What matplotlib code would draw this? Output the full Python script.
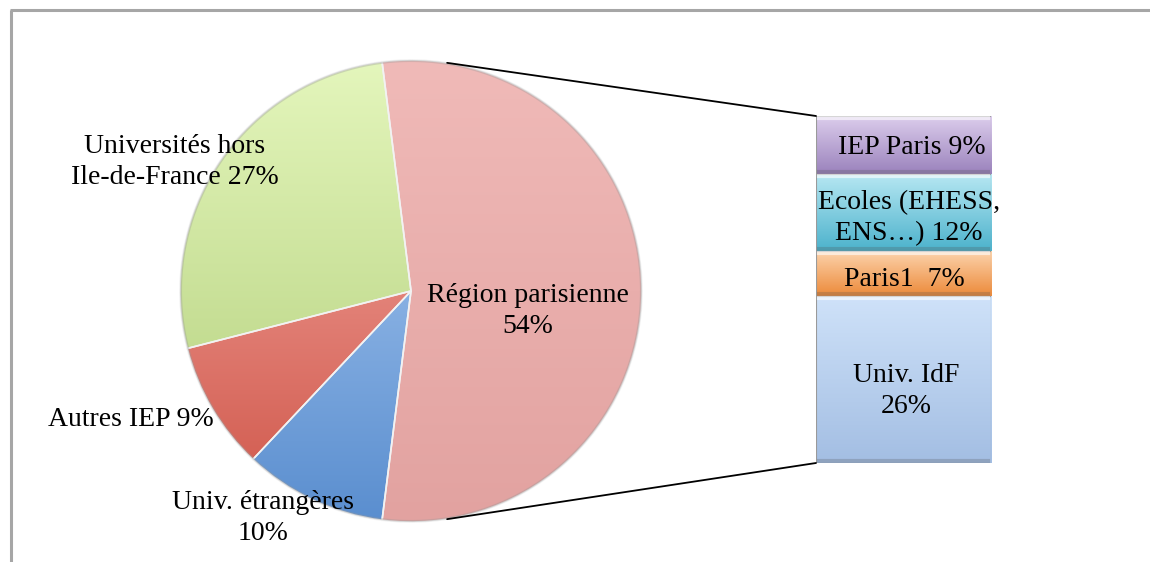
import numpy as np
import matplotlib
matplotlib.use("Agg")
import matplotlib.pyplot as plt
from matplotlib.colors import LinearSegmentedColormap
from matplotlib.patches import ConnectionPatch

# pie data (order: counter-clockwise, starting with the split slice)
pie_labels = ["Région parisienne\n54%", "Universités hors\nIle-de-France 27%",
              "Autres IEP 9%", "Univ. étrangères\n10%"]
pie_values = [54, 27, 9, 10]
pie_colors = [("#F0BAB8", "#E2A2A0"), ("#E4F6BC", "#B0CD78"),
              ("#F7B0AA", "#CF5548"), ("#B6D3F7", "#5A8ECF")]
pie_label_pos = [(528, 311), (175, 162), (131, 420), (263, 518)]

# bar data (bottom to top)
bar_labels = ["Univ. IdF\n26%", "Paris1  7%", "Ecoles (EHESS,\nENS…) 12%", "IEP Paris 9%"]
bar_values = [26, 7, 12, 9]
bar_colors = [("#CFE2F9", "#A3BEE3"), ("#FCD3AC", "#EC8A3A"),
              ("#B8E8F3", "#4CB2CC"), ("#DCCDEC", "#9A82BC")]
bar_label_y = [391, 280, 218, 147]
bar_label_x = [906, 904, 909, 912]

W, H = 1150, 562
FONT = dict(family="Liberation Serif", size=20, color="black")

fig = plt.figure(figsize=(W / 100, H / 100), dpi=100)
ax = fig.add_axes([0, 0, 1, 1])

cx, cy, r = 411, H - 291, 231
start = -pie_values[0] / 100 * 360 / 2
wedges, _ = ax.pie(pie_values, center=(cx, cy), radius=r, startangle=start,
                   counterclock=True, frame=True,
                   wedgeprops=dict(edgecolor="#f2f2f2", linewidth=1.2))


def gradient_fill(axis, patch, top, bottom, extent):
    cmap = LinearSegmentedColormap.from_list("g", [bottom, top])
    grad = np.linspace(0, 1, 256).reshape(-1, 1)
    im = axis.imshow(grad, cmap=cmap, extent=extent, origin="lower",
                     aspect="auto", zorder=patch.get_zorder() - 0.1)
    im.set_clip_path(patch)


for w, (top, bot) in zip(wedges, pie_colors):
    w.set_facecolor("none")
    gradient_fill(ax, w, top, bot, [cx - r, cx + r, cy - r, cy + r])

# soft outer rim of the pie
t = np.linspace(0, 2 * np.pi, 400)
ax.plot(cx + (r - 1) * np.cos(t), cy + (r - 1) * np.sin(t), color="#9a9a9a",
        alpha=0.35, lw=1.5, zorder=2)

for lab, (x, y) in zip(pie_labels, pie_label_pos):
    ax.text(x, H - y, lab, ha="center", va="center", linespacing=1.3, zorder=5, **FONT)

# frame lines (top and left only)
ax.plot([10, W], [H - 10, H - 10], color="#a6a6a6", lw=2.2, solid_capstyle="butt")
ax.plot([11, 11], [H - 10, 0], color="#a6a6a6", lw=2.2, solid_capstyle="butt")

ax.set_xlim(0, W)
ax.set_ylim(0, H)
ax.set_aspect("auto")
ax.axis("off")

# stacked bar
bx0, bx1, by0, by1 = 816, 991, 463, 116
bax = fig.add_axes([bx0 / W, (H - by0) / H, (bx1 - bx0) / W, (by0 - by1) / H])
total = sum(bar_values)
bottoms = np.concatenate([[0], np.cumsum(bar_values)[:-1]])
bars = bax.bar(0.5, bar_values, width=1.0, bottom=bottoms,
               edgecolor="#9a9a9a", linewidth=0.8)
for b, (top, bot), b0, v in zip(bars, bar_colors, bottoms, bar_values):
    b.set_facecolor("none")
    gradient_fill(bax, b, top, bot, [0, 1, b0, b0 + v])
    # bevel: light top band, dark bottom band
    bax.plot([0.02, 0.98], [b0 + v - 0.35, b0 + v - 0.35], color="white", alpha=0.6, lw=3)
    bax.plot([0.02, 0.98], [b0 + 0.25, b0 + 0.25], color="#505050", alpha=0.25, lw=3)
bax.set_xlim(0, 1)
bax.set_ylim(0, total)
bax.axis("off")

for lab, x, y in zip(bar_labels, bar_label_x, bar_label_y):
    fig.text(x / W, 1 - y / H, lab, ha="center", va="center", linespacing=1.3, **FONT)

# connector lines from the split slice to the bar
ang = np.deg2rad(81)
for sgn, yb in [(1, total), (-1, 0)]:
    p = (cx + r * np.cos(ang), cy + sgn * r * np.sin(ang))
    con = ConnectionPatch(xyA=p, coordsA=ax.transData, xyB=(0, yb), coordsB=bax.transData,
                          color="black", lw=1.3)
    fig.add_artist(con)

fig.savefig("out.png", dpi=100)
